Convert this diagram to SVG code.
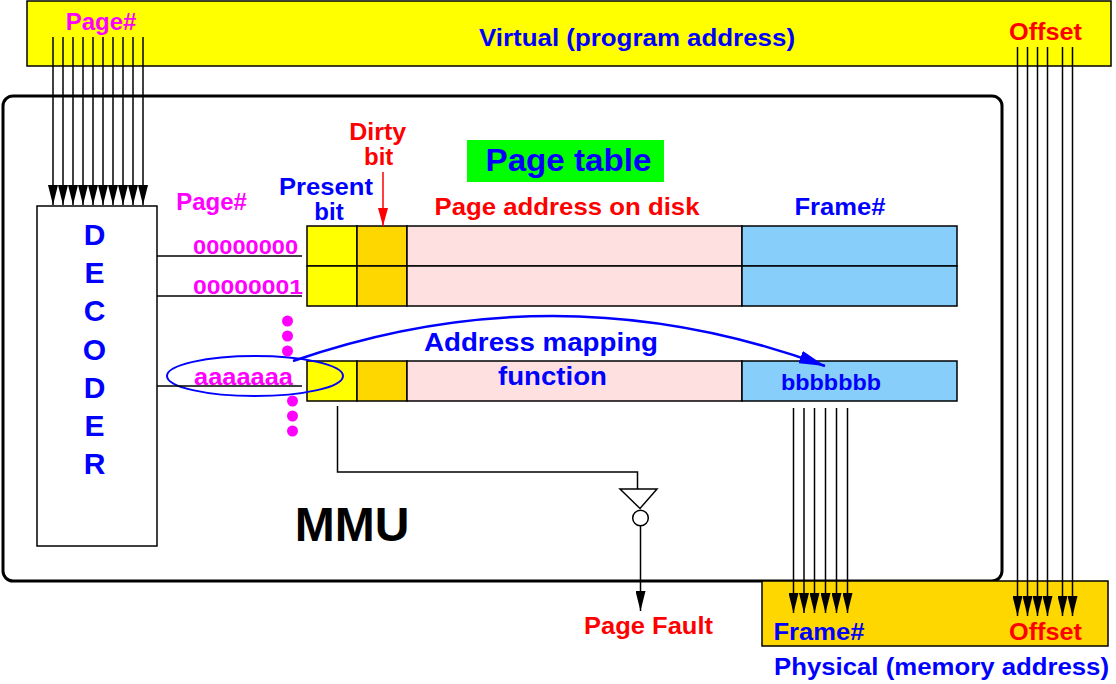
<svg xmlns="http://www.w3.org/2000/svg" width="1116" height="684" viewBox="0 0 1116 684">
<defs>
<style>
text{font-family:"Liberation Sans",Arial,Helvetica,sans-serif;font-weight:bold}
.ln{stroke:#000;stroke-width:1.5;fill:none}
.bx{stroke:#000;stroke-width:1.5}
.mag{fill:#ff00ff}
.blu{fill:#0000ff}
.red{fill:#ff0000}
.pres{fill:#ffff00}
.dirty{fill:#ffd700}
.disk{fill:#ffe0e0}
.frame{fill:#87cefa}
.dot{fill:#ff00ff}
</style>
<marker id="ah" markerUnits="userSpaceOnUse" markerWidth="20" markerHeight="10" refX="20" refY="5" orient="auto" viewBox="0 0 20 10"><path d="M0,0 L20,5 L0,10 z" fill="#000"/></marker>
<marker id="ahr" markerUnits="userSpaceOnUse" markerWidth="18" markerHeight="10" refX="18" refY="5" orient="auto" viewBox="0 0 18 10"><path d="M0,0 L18,5 L0,10 z" fill="#ff0000"/></marker>
<marker id="ahb" markerUnits="userSpaceOnUse" markerWidth="26" markerHeight="13" refX="26" refY="6.5" orient="auto" viewBox="0 0 26 13"><path d="M0,0 L26,6.5 L0,13 z" fill="#0000ff"/></marker>
</defs>
<rect x="0" y="0" width="1116" height="684" fill="#ffffff"/>

<g id="virtual">
<rect class="bx" x="27" y="1" width="1084" height="65" fill="#ffff00"/>
<text x="101" y="30" class="mag" font-size="24" text-anchor="middle">Page#</text>
<text x="637" y="46" class="blu" font-size="24" text-anchor="middle" textLength="316" lengthAdjust="spacingAndGlyphs">Virtual (program address)</text>
<text x="1045.5" y="40" class="red" font-size="24" text-anchor="middle" textLength="73" lengthAdjust="spacingAndGlyphs">Offset</text>
</g>

<g id="mmu">
<rect x="3" y="96" width="999" height="485" rx="10" fill="none" stroke="#000" stroke-width="3"/>
<text x="352" y="541" font-size="48" fill="#000" text-anchor="middle">MMU</text>
</g>

<g id="physical">
<rect class="bx" x="762" y="581" width="346" height="65" fill="#ffd700"/>
<text x="819" y="640" class="blu" font-size="24" text-anchor="middle" textLength="91" lengthAdjust="spacingAndGlyphs">Frame#</text>
<text x="1045.5" y="640" class="red" font-size="24" text-anchor="middle" textLength="73" lengthAdjust="spacingAndGlyphs">Offset</text>
<text x="941.5" y="675" class="blu" font-size="24" text-anchor="middle" textLength="335" lengthAdjust="spacingAndGlyphs">Physical (memory address)</text>
</g>

<g id="decoder">
<rect class="bx" x="37" y="206" width="120" height="340" fill="#ffffff"/>
<g class="blu" font-size="30" text-anchor="middle">
<text x="94.5" y="245">D</text>
<text x="94.5" y="283.2">E</text>
<text x="94.5" y="321.4">C</text>
<text x="94.5" y="359.6">O</text>
<text x="94.5" y="397.8">D</text>
<text x="94.5" y="436">E</text>
<text x="94.5" y="474.2">R</text>
</g>
</g>

<g id="page-table-title">
<rect x="467" y="140" width="197" height="42" fill="#00ff00"/>
<text x="568.5" y="171" class="blu" font-size="32" text-anchor="middle" textLength="166" lengthAdjust="spacingAndGlyphs">Page table</text>
</g>

<g id="headers">
<text x="211.5" y="210" class="mag" font-size="24" text-anchor="middle">Page#</text>
<text x="326" y="195" class="blu" font-size="24" text-anchor="middle" textLength="94" lengthAdjust="spacingAndGlyphs">Present</text>
<text x="329" y="220" class="blu" font-size="24" text-anchor="middle">bit</text>
<text x="377.7" y="140" class="red" font-size="24" text-anchor="middle" textLength="57" lengthAdjust="spacingAndGlyphs">Dirty</text>
<text x="378.7" y="165" class="red" font-size="24" text-anchor="middle">bit</text>
<text x="567" y="215" class="red" font-size="24" text-anchor="middle" textLength="265" lengthAdjust="spacingAndGlyphs">Page address on disk</text>
<text x="840" y="215" class="blu" font-size="24" text-anchor="middle" textLength="91" lengthAdjust="spacingAndGlyphs">Frame#</text>
</g>

<g id="row0">
<rect class="bx pres" x="307" y="226" width="50" height="40"/>
<rect class="bx dirty" x="357" y="226" width="50" height="40"/>
<rect class="bx disk" x="407" y="226" width="335" height="40"/>
<rect class="bx frame" x="742" y="226" width="215" height="40"/>
<text x="245.5" y="254" class="mag" font-size="20" text-anchor="middle" textLength="105" lengthAdjust="spacingAndGlyphs">00000000</text>
</g>

<g id="row1">
<rect class="bx pres" x="307" y="266" width="50" height="40"/>
<rect class="bx dirty" x="357" y="266" width="50" height="40"/>
<rect class="bx disk" x="407" y="266" width="335" height="40"/>
<rect class="bx frame" x="742" y="266" width="215" height="40"/>
<text x="248" y="294" class="mag" font-size="20" text-anchor="middle" textLength="110" lengthAdjust="spacingAndGlyphs">00000001</text>
</g>

<g id="rowA">
<rect class="bx pres" x="307" y="361" width="50" height="40"/>
<rect class="bx dirty" x="357" y="361" width="50" height="40"/>
<rect class="bx disk" x="407" y="361" width="335" height="40"/>
<rect class="bx frame" x="742" y="361" width="215" height="40"/>
<text x="243.5" y="385" class="mag" font-size="24" text-anchor="middle" textLength="99" lengthAdjust="spacingAndGlyphs">aaaaaaa</text>
<text x="831" y="390" class="blu" font-size="22" text-anchor="middle" textLength="100" lengthAdjust="spacingAndGlyphs">bbbbbbb</text>
<text x="552.5" y="385" class="blu" font-size="26" text-anchor="middle" textLength="109" lengthAdjust="spacingAndGlyphs">function</text>
<ellipse cx="255" cy="376" rx="88" ry="20" fill="none" stroke="#0000ff" stroke-width="2"/>
</g>

<g id="dots">
<circle class="dot" cx="287.5" cy="321" r="5.5"/>
<circle class="dot" cx="287.5" cy="336" r="5.5"/>
<circle class="dot" cx="287.5" cy="351" r="5.5"/>
<circle class="dot" cx="292.5" cy="401" r="5.5"/>
<circle class="dot" cx="292.5" cy="416" r="5.5"/>
<circle class="dot" cx="292.5" cy="431" r="5.5"/>
</g>

<g id="inverter">
<polygon points="620,489 657,489 640,508.5" fill="#ffffff" stroke="#000" stroke-width="1.5"/>
<circle cx="640.5" cy="518" r="7.8" fill="#ffffff" stroke="#000" stroke-width="1.5"/>
<text x="648.5" y="634" class="red" font-size="24" text-anchor="middle" textLength="129" lengthAdjust="spacingAndGlyphs">Page Fault</text>
</g>

<g id="connectors">
<g class="ln" marker-end="url(#ah)">
<line x1="53" y1="37" x2="53" y2="205"/>
<line x1="63" y1="37" x2="63" y2="205"/>
<line x1="73" y1="37" x2="73" y2="205"/>
<line x1="83" y1="37" x2="83" y2="205"/>
<line x1="93" y1="37" x2="93" y2="205"/>
<line x1="103" y1="37" x2="103" y2="205"/>
<line x1="113" y1="37" x2="113" y2="205"/>
<line x1="123" y1="37" x2="123" y2="205"/>
<line x1="133" y1="37" x2="133" y2="205"/>
<line x1="143" y1="37" x2="143" y2="205"/>
<line x1="1017.5" y1="47" x2="1017.5" y2="616"/>
<line x1="1027.5" y1="47" x2="1027.5" y2="616"/>
<line x1="1037.5" y1="47" x2="1037.5" y2="616"/>
<line x1="1047.5" y1="47" x2="1047.5" y2="616"/>
<line x1="1062.5" y1="47" x2="1062.5" y2="616"/>
<line x1="1072.5" y1="47" x2="1072.5" y2="616"/>
<line x1="793.5" y1="408" x2="793.5" y2="613"/>
<line x1="804" y1="408" x2="804" y2="613"/>
<line x1="814.5" y1="408" x2="814.5" y2="613"/>
<line x1="825.5" y1="408" x2="825.5" y2="613"/>
<line x1="836.5" y1="408" x2="836.5" y2="613"/>
<line x1="847.5" y1="408" x2="847.5" y2="613"/>
<line x1="640.5" y1="526" x2="640.5" y2="611"/>
</g>
<line class="ln" x1="157" y1="256" x2="302" y2="256"/>
<line class="ln" x1="157" y1="296" x2="302" y2="296"/>
<line class="ln" x1="157" y1="386" x2="302" y2="386"/>
<path class="ln" d="M337.5,406 V472 H637.5 V489"/>
<line x1="383" y1="172" x2="383" y2="226" stroke="#ff0000" stroke-width="1.5" marker-end="url(#ahr)"/>
<path d="M293,361 Q560,268.5 825,366" fill="none" stroke="#0000ff" stroke-width="2.5" marker-end="url(#ahb)"/>
<text x="541" y="351" class="blu" font-size="26" text-anchor="middle" textLength="234" lengthAdjust="spacingAndGlyphs">Address mapping</text>
</g>
</svg>
